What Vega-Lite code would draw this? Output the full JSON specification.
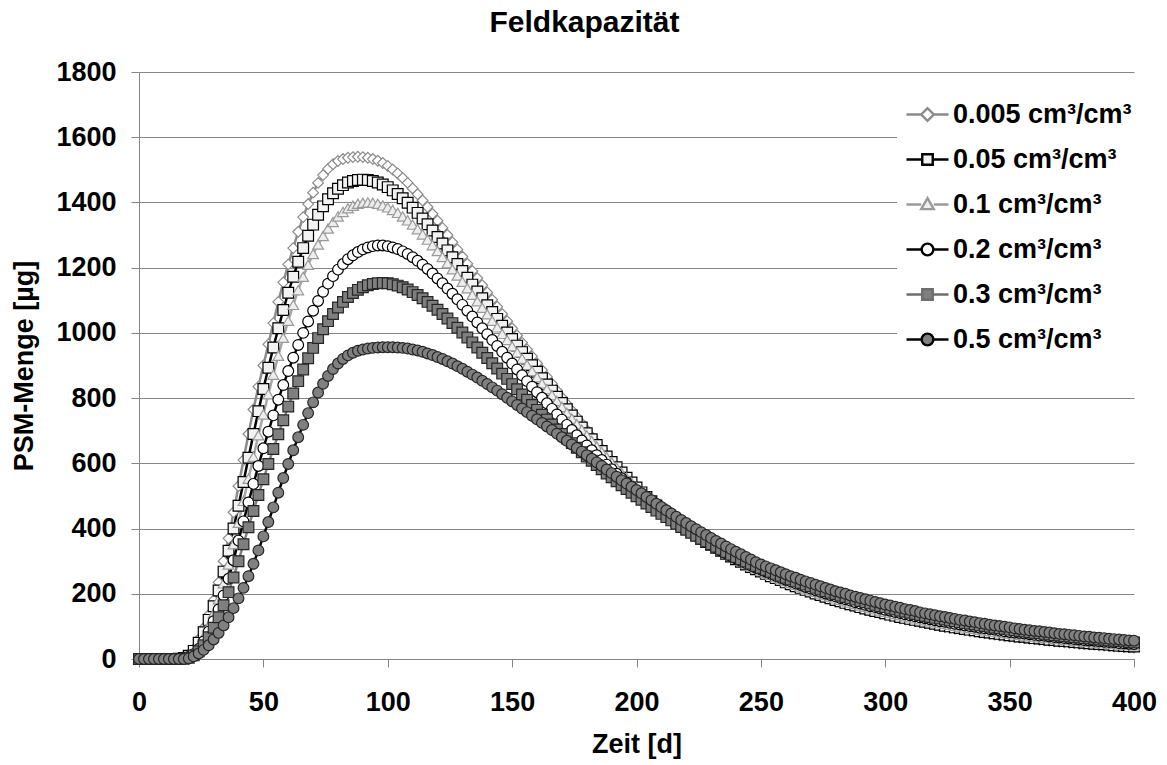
{
"$schema":"https://vega.github.io/schema/vega-lite/v6.json",
"width":995,"height":587,"autosize":"none",
"padding":{"left":139,"top":72,"right":33,"bottom":106},
"background":"white",
"title":{"text":"Feldkapazität","fontSize":30,"font":"Liberation Sans","fontWeight":"bold","color":"#000","anchor":"middle","dx":-52,"offset":-4,"baseline":"alphabetic"},
"datasets":{"w":[
{"t":0,"a":0,"b":0,"c":0,"d":0,"e":0,"f":0},
{"t":2,"a":0,"b":0,"c":0,"d":0,"e":0,"f":0},
{"t":4,"a":0,"b":0,"c":0,"d":0,"e":0,"f":0},
{"t":6,"a":0,"b":0,"c":0,"d":0,"e":0,"f":0},
{"t":8,"a":0,"b":0,"c":0,"d":0,"e":0,"f":0},
{"t":10,"a":0,"b":0,"c":0,"d":0,"e":0,"f":0},
{"t":12,"a":0,"b":0,"c":0,"d":0,"e":0,"f":0},
{"t":14,"a":0,"b":0,"c":0,"d":0,"e":0,"f":0},
{"t":16,"a":1,"b":1,"c":1,"d":0,"e":0,"f":0},
{"t":18,"a":4,"b":3,"c":3,"d":2,"e":1,"f":0},
{"t":20,"a":12,"b":10,"c":8,"d":6,"e":4,"f":2},
{"t":22,"a":30,"b":25,"c":20,"d":15,"e":11,"f":8},
{"t":24,"a":60,"b":50,"c":40,"d":31,"e":24,"f":17},
{"t":26,"a":95,"b":82,"c":68,"d":54,"e":42,"f":28},
{"t":28,"a":135,"b":120,"c":102,"d":84,"e":67,"f":42},
{"t":30,"a":180,"b":162,"c":140,"d":116,"e":96,"f":60},
{"t":32,"a":235,"b":210,"c":183,"d":152,"e":128,"f":80},
{"t":34,"a":300,"b":268,"c":232,"d":195,"e":165,"f":103},
{"t":36,"a":370,"b":332,"c":290,"d":246,"e":205,"f":128},
{"t":38,"a":450,"b":400,"c":352,"d":303,"e":250,"f":156},
{"t":40,"a":530,"b":470,"c":418,"d":363,"e":300,"f":186},
{"t":42,"a":610,"b":543,"c":485,"d":422,"e":352,"f":218},
{"t":44,"a":690,"b":617,"c":553,"d":480,"e":404,"f":254},
{"t":46,"a":765,"b":690,"c":620,"d":537,"e":454,"f":292},
{"t":48,"a":835,"b":760,"c":686,"d":592,"e":503,"f":333},
{"t":50,"a":900,"b":828,"c":750,"d":646,"e":551,"f":376},
{"t":52,"a":965,"b":893,"c":812,"d":697,"e":598,"f":420},
{"t":54,"a":1030,"b":955,"c":872,"d":747,"e":644,"f":465},
{"t":56,"a":1095,"b":1014,"c":930,"d":795,"e":689,"f":510},
{"t":58,"a":1155,"b":1070,"c":985,"d":840,"e":732,"f":555},
{"t":60,"a":1210,"b":1123,"c":1037,"d":883,"e":774,"f":598},
{"t":62,"a":1260,"b":1172,"c":1086,"d":924,"e":814,"f":640},
{"t":64,"a":1310,"b":1218,"c":1131,"d":963,"e":852,"f":680},
{"t":66,"a":1355,"b":1260,"c":1172,"d":1000,"e":888,"f":718},
{"t":68,"a":1395,"b":1298,"c":1209,"d":1035,"e":922,"f":754},
{"t":70,"a":1430,"b":1332,"c":1242,"d":1068,"e":954,"f":787},
{"t":72,"a":1460,"b":1362,"c":1271,"d":1098,"e":984,"f":817},
{"t":74,"a":1484,"b":1388,"c":1297,"d":1126,"e":1011,"f":844},
{"t":76,"a":1503,"b":1410,"c":1320,"d":1151,"e":1036,"f":868},
{"t":78,"a":1517,"b":1428,"c":1340,"d":1174,"e":1058,"f":889},
{"t":80,"a":1527,"b":1442,"c":1357,"d":1194,"e":1078,"f":906},
{"t":82,"a":1533,"b":1453,"c":1371,"d":1211,"e":1095,"f":920},
{"t":84,"a":1537,"b":1461,"c":1382,"d":1226,"e":1110,"f":931},
{"t":86,"a":1539,"b":1466,"c":1390,"d":1238,"e":1122,"f":939},
{"t":88,"a":1540,"b":1469,"c":1396,"d":1248,"e":1132,"f":945},
{"t":90,"a":1539,"b":1470,"c":1399,"d":1256,"e":1140,"f":949},
{"t":92,"a":1537,"b":1469,"c":1400,"d":1262,"e":1146,"f":952},
{"t":94,"a":1533,"b":1466,"c":1399,"d":1266,"e":1150,"f":954},
{"t":96,"a":1528,"b":1461,"c":1396,"d":1268,"e":1152,"f":955},
{"t":98,"a":1521,"b":1455,"c":1391,"d":1268,"e":1153,"f":956},
{"t":100,"a":1512,"b":1447,"c":1385,"d":1266,"e":1152,"f":956},
{"t":102,"a":1501,"b":1437,"c":1377,"d":1262,"e":1149,"f":956},
{"t":104,"a":1489,"b":1426,"c":1368,"d":1257,"e":1145,"f":955},
{"t":106,"a":1475,"b":1413,"c":1357,"d":1250,"e":1140,"f":954},
{"t":108,"a":1460,"b":1399,"c":1345,"d":1242,"e":1133,"f":952},
{"t":110,"a":1443,"b":1384,"c":1332,"d":1232,"e":1125,"f":949},
{"t":112,"a":1425,"b":1368,"c":1318,"d":1221,"e":1116,"f":946},
{"t":114,"a":1406,"b":1351,"c":1302,"d":1209,"e":1106,"f":942},
{"t":116,"a":1386,"b":1333,"c":1286,"d":1196,"e":1095,"f":937},
{"t":118,"a":1365,"b":1314,"c":1269,"d":1182,"e":1083,"f":932},
{"t":120,"a":1344,"b":1294,"c":1251,"d":1167,"e":1071,"f":926},
{"t":122,"a":1322,"b":1274,"c":1233,"d":1152,"e":1058,"f":920},
{"t":124,"a":1300,"b":1253,"c":1214,"d":1136,"e":1044,"f":913},
{"t":126,"a":1278,"b":1232,"c":1195,"d":1120,"e":1030,"f":906},
{"t":128,"a":1256,"b":1211,"c":1176,"d":1103,"e":1016,"f":898},
{"t":130,"a":1234,"b":1190,"c":1157,"d":1086,"e":1001,"f":890},
{"t":132,"a":1212,"b":1169,"c":1137,"d":1068,"e":986,"f":881},
{"t":134,"a":1190,"b":1148,"c":1117,"d":1050,"e":971,"f":872},
{"t":136,"a":1168,"b":1127,"c":1097,"d":1032,"e":955,"f":863},
{"t":138,"a":1146,"b":1106,"c":1077,"d":1014,"e":939,"f":853},
{"t":140,"a":1124,"b":1085,"c":1057,"d":996,"e":923,"f":843},
{"t":142,"a":1102,"b":1064,"c":1037,"d":978,"e":907,"f":833},
{"t":144,"a":1080,"b":1043,"c":1017,"d":960,"e":891,"f":823},
{"t":146,"a":1058,"b":1022,"c":997,"d":942,"e":875,"f":812},
{"t":148,"a":1036,"b":1001,"c":978,"d":924,"e":859,"f":801},
{"t":150,"a":1014,"b":981,"c":959,"d":906,"e":843,"f":790},
{"t":152,"a":992,"b":961,"c":940,"d":888,"e":827,"f":779},
{"t":154,"a":970,"b":941,"c":921,"d":870,"e":811,"f":768},
{"t":156,"a":949,"b":921,"c":902,"d":852,"e":795,"f":757},
{"t":158,"a":928,"b":901,"c":883,"d":835,"e":779,"f":746},
{"t":160,"a":907,"b":881,"c":864,"d":818,"e":764,"f":735},
{"t":162,"a":886,"b":861,"c":845,"d":801,"e":749,"f":724},
{"t":164,"a":865,"b":842,"c":827,"d":784,"e":734,"f":713},
{"t":166,"a":844,"b":823,"c":809,"d":767,"e":719,"f":702},
{"t":168,"a":823,"b":804,"c":791,"d":750,"e":704,"f":691},
{"t":170,"a":802,"b":785,"c":773,"d":734,"e":690,"f":680},
{"t":172,"a":782,"b":766,"c":755,"d":718,"e":676,"f":669},
{"t":174,"a":762,"b":747,"c":737,"d":702,"e":662,"f":658},
{"t":176,"a":742,"b":728,"c":720,"d":686,"e":648,"f":647},
{"t":178,"a":722,"b":710,"c":703,"d":670,"e":634,"f":636},
{"t":180,"a":702,"b":692,"c":686,"d":655,"e":621,"f":625},
{"t":182,"a":682,"b":674,"c":669,"d":640,"e":608,"f":614},
{"t":184,"a":663,"b":656,"c":652,"d":625,"e":595,"f":603},
{"t":186,"a":644,"b":638,"c":635,"d":610,"e":582,"f":592},
{"t":188,"a":625,"b":621,"c":619,"d":596,"e":569,"f":581},
{"t":190,"a":607,"b":604,"c":603,"d":582,"e":557,"f":570},
{"t":192,"a":590,"b":588,"c":587,"d":568,"e":545,"f":559},
{"t":194,"a":573,"b":572,"c":571,"d":554,"e":533,"f":548},
{"t":196,"a":557,"b":556,"c":556,"d":541,"e":521,"f":538},
{"t":198,"a":541,"b":541,"c":541,"d":528,"e":510,"f":528},
{"t":200,"a":526,"b":526,"c":526,"d":515,"e":499,"f":518},
{"t":202,"a":511,"b":511,"c":512,"d":502,"e":488,"f":508},
{"t":204,"a":497,"b":497,"c":498,"d":489,"e":477,"f":497},
{"t":206,"a":483,"b":484,"c":485,"d":477,"e":466,"f":487},
{"t":208,"a":470,"b":471,"c":472,"d":465,"e":455,"f":476},
{"t":210,"a":457,"b":458,"c":460,"d":453,"e":445,"f":466},
{"t":212,"a":445,"b":446,"c":448,"d":441,"e":435,"f":456},
{"t":214,"a":433,"b":434,"c":436,"d":430,"e":425,"f":446},
{"t":216,"a":421,"b":422,"c":424,"d":419,"e":415,"f":436},
{"t":218,"a":410,"b":411,"c":413,"d":408,"e":405,"f":426},
{"t":220,"a":399,"b":400,"c":402,"d":398,"e":396,"f":417},
{"t":222,"a":388,"b":389,"c":391,"d":388,"e":387,"f":407},
{"t":224,"a":378,"b":379,"c":381,"d":378,"e":378,"f":398},
{"t":226,"a":368,"b":369,"c":371,"d":368,"e":369,"f":389},
{"t":228,"a":358,"b":359,"c":361,"d":359,"e":360,"f":380},
{"t":230,"a":348,"b":350,"c":352,"d":350,"e":352,"f":371},
{"t":232,"a":339,"b":341,"c":343,"d":341,"e":344,"f":362},
{"t":234,"a":330,"b":332,"c":334,"d":332,"e":336,"f":354},
{"t":236,"a":321,"b":323,"c":325,"d":324,"e":328,"f":345},
{"t":238,"a":312,"b":314,"c":317,"d":316,"e":320,"f":337},
{"t":240,"a":304,"b":306,"c":309,"d":308,"e":313,"f":329},
{"t":242,"a":296,"b":298,"c":301,"d":301,"e":306,"f":321},
{"t":244,"a":288,"b":290,"c":293,"d":294,"e":299,"f":313},
{"t":246,"a":280,"b":282,"c":285,"d":287,"e":292,"f":305},
{"t":248,"a":273,"b":275,"c":278,"d":280,"e":285,"f":297},
{"t":250,"a":266,"b":268,"c":271,"d":274,"e":279,"f":290},
{"t":252,"a":259,"b":261,"c":264,"d":268,"e":273,"f":284},
{"t":254,"a":252,"b":254,"c":258,"d":261,"e":267,"f":278},
{"t":256,"a":245,"b":248,"c":251,"d":255,"e":261,"f":272},
{"t":258,"a":239,"b":242,"c":245,"d":249,"e":255,"f":266},
{"t":260,"a":232,"b":235,"c":239,"d":243,"e":249,"f":260},
{"t":262,"a":226,"b":229,"c":233,"d":238,"e":244,"f":254},
{"t":264,"a":220,"b":223,"c":228,"d":232,"e":238,"f":249},
{"t":266,"a":214,"b":218,"c":222,"d":227,"e":233,"f":243},
{"t":268,"a":209,"b":212,"c":216,"d":221,"e":228,"f":238},
{"t":270,"a":203,"b":207,"c":211,"d":216,"e":223,"f":233},
{"t":272,"a":198,"b":201,"c":206,"d":211,"e":218,"f":228},
{"t":274,"a":192,"b":196,"c":201,"d":206,"e":213,"f":223},
{"t":276,"a":187,"b":191,"c":196,"d":201,"e":208,"f":218},
{"t":278,"a":182,"b":186,"c":191,"d":196,"e":203,"f":213},
{"t":280,"a":177,"b":181,"c":186,"d":192,"e":199,"f":208},
{"t":282,"a":173,"b":177,"c":182,"d":187,"e":194,"f":204},
{"t":284,"a":168,"b":172,"c":177,"d":183,"e":190,"f":200},
{"t":286,"a":164,"b":168,"c":173,"d":179,"e":186,"f":195},
{"t":288,"a":159,"b":164,"c":169,"d":174,"e":182,"f":191},
{"t":290,"a":155,"b":159,"c":164,"d":170,"e":178,"f":187},
{"t":292,"a":151,"b":155,"c":160,"d":166,"e":174,"f":183},
{"t":294,"a":147,"b":151,"c":156,"d":162,"e":170,"f":179},
{"t":296,"a":143,"b":147,"c":153,"d":159,"e":166,"f":175},
{"t":298,"a":139,"b":144,"c":149,"d":155,"e":162,"f":171},
{"t":300,"a":136,"b":140,"c":145,"d":151,"e":159,"f":167},
{"t":302,"a":132,"b":136,"c":142,"d":148,"e":155,"f":164},
{"t":304,"a":129,"b":133,"c":138,"d":144,"e":152,"f":160},
{"t":306,"a":125,"b":129,"c":135,"d":141,"e":148,"f":157},
{"t":308,"a":122,"b":126,"c":131,"d":137,"e":145,"f":153},
{"t":310,"a":119,"b":123,"c":128,"d":134,"e":142,"f":150},
{"t":312,"a":116,"b":120,"c":125,"d":131,"e":138,"f":147},
{"t":314,"a":113,"b":117,"c":122,"d":128,"e":135,"f":143},
{"t":316,"a":110,"b":114,"c":119,"d":125,"e":132,"f":140},
{"t":318,"a":107,"b":111,"c":116,"d":122,"e":129,"f":137},
{"t":320,"a":104,"b":108,"c":113,"d":119,"e":126,"f":134},
{"t":322,"a":101,"b":105,"c":110,"d":116,"e":124,"f":131},
{"t":324,"a":98,"b":102,"c":108,"d":114,"e":121,"f":129},
{"t":326,"a":96,"b":100,"c":105,"d":111,"e":118,"f":126},
{"t":328,"a":93,"b":97,"c":102,"d":108,"e":116,"f":123},
{"t":330,"a":91,"b":95,"c":100,"d":106,"e":113,"f":120},
{"t":332,"a":88,"b":92,"c":97,"d":103,"e":110,"f":118},
{"t":334,"a":86,"b":90,"c":95,"d":101,"e":108,"f":115},
{"t":336,"a":84,"b":88,"c":93,"d":99,"e":106,"f":113},
{"t":338,"a":81,"b":85,"c":90,"d":96,"e":103,"f":110},
{"t":340,"a":79,"b":83,"c":88,"d":94,"e":101,"f":108},
{"t":342,"a":77,"b":81,"c":86,"d":92,"e":99,"f":105},
{"t":344,"a":75,"b":79,"c":84,"d":90,"e":96,"f":103},
{"t":346,"a":73,"b":77,"c":82,"d":87,"e":94,"f":101},
{"t":348,"a":71,"b":75,"c":80,"d":85,"e":92,"f":99},
{"t":350,"a":69,"b":73,"c":78,"d":83,"e":90,"f":97},
{"t":352,"a":67,"b":71,"c":76,"d":81,"e":88,"f":94},
{"t":354,"a":66,"b":69,"c":74,"d":80,"e":86,"f":92},
{"t":356,"a":64,"b":68,"c":72,"d":78,"e":84,"f":90},
{"t":358,"a":62,"b":66,"c":70,"d":76,"e":82,"f":88},
{"t":360,"a":61,"b":64,"c":69,"d":74,"e":80,"f":86},
{"t":362,"a":59,"b":63,"c":67,"d":72,"e":79,"f":85},
{"t":364,"a":57,"b":61,"c":65,"d":71,"e":77,"f":83},
{"t":366,"a":56,"b":59,"c":64,"d":69,"e":75,"f":81},
{"t":368,"a":54,"b":58,"c":62,"d":67,"e":73,"f":79},
{"t":370,"a":53,"b":56,"c":61,"d":66,"e":72,"f":77},
{"t":372,"a":51,"b":55,"c":59,"d":64,"e":70,"f":76},
{"t":374,"a":50,"b":54,"c":58,"d":63,"e":69,"f":74},
{"t":376,"a":49,"b":52,"c":56,"d":61,"e":67,"f":73},
{"t":378,"a":47,"b":51,"c":55,"d":60,"e":66,"f":71},
{"t":380,"a":46,"b":50,"c":53,"d":58,"e":64,"f":69},
{"t":382,"a":45,"b":48,"c":52,"d":57,"e":63,"f":68},
{"t":384,"a":44,"b":47,"c":51,"d":56,"e":61,"f":66},
{"t":386,"a":42,"b":46,"c":50,"d":54,"e":60,"f":65},
{"t":388,"a":41,"b":45,"c":48,"d":53,"e":59,"f":64},
{"t":390,"a":40,"b":44,"c":47,"d":52,"e":57,"f":62},
{"t":392,"a":39,"b":42,"c":46,"d":51,"e":56,"f":61},
{"t":394,"a":38,"b":41,"c":45,"d":49,"e":55,"f":60},
{"t":396,"a":37,"b":40,"c":44,"d":48,"e":54,"f":58},
{"t":398,"a":36,"b":39,"c":43,"d":47,"e":52,"f":57},
{"t":400,"a":35,"b":38,"c":42,"d":46,"e":51,"f":56}
]},
"layer":[
{"data":{"name":"w"},
 "transform":[{"fold":["a","b","c","d","e","f"],"as":["s","v"]}],
 "mark":{"type":"line","strokeWidth":2.5},
 "encoding":{
  "x":{"field":"t","type":"quantitative","scale":{"domain":[0,400],"nice":false},"axis":{"title":"Zeit [d]","values":[0,50,100,150,200,250,300,350,400],"grid":false,"labelFlush":false,"format":"d"}},
  "y":{"field":"v","type":"quantitative","scale":{"domain":[0,1800],"nice":false},"axis":{"title":"PSM-Menge [µg]","values":[0,200,400,600,800,1000,1200,1400,1600,1800],"grid":true,"format":"d"}},
  "color":{"field":"s","type":"nominal","scale":{"domain":["a","b","c","d","e","f"],"range":["#8c8c8c","#000000","#a6a6a6","#000000","#808080","#000000"]},"legend":null},
  "detail":{"field":"s","type":"nominal"}
 }},
{"data":{"name":"w"},
 "transform":[{"fold":["a","b","c","d","e","f"],"as":["s","v"]}],
 "mark":{"type":"point","filled":true,"size":115,"strokeWidth":1.2,"opacity":1},
 "encoding":{
  "x":{"field":"t","type":"quantitative"},
  "y":{"field":"v","type":"quantitative"},
  "shape":{"field":"s","type":"nominal","scale":{"domain":["a","b","c","d","e","f"],"range":["diamond","square","triangle-up","circle","square","circle"]},"legend":null},
  "fill":{"field":"s","type":"nominal","scale":{"domain":["a","b","c","d","e","f"],"range":["#ffffff","#f2f2f2","#eeeeee","#ffffff","#7f7f7f","#808080"]},"legend":null},
  "stroke":{"field":"s","type":"nominal","scale":{"domain":["a","b","c","d","e","f"],"range":["#8a8a8a","#000000","#9a9a9a","#000000","#262626","#262626"]},"legend":null},
  "order":{"field":"s","type":"ordinal"}
 }},
{"data":{"values":[{"k":"0.005 cm³/cm³"},{"k":"0.05 cm³/cm³"},{"k":"0.1 cm³/cm³"},{"k":"0.2 cm³/cm³"},{"k":"0.3 cm³/cm³"},{"k":"0.5 cm³/cm³"}]},
 "mark":{"type":"point","filled":true,"opacity":0},
 "encoding":{
  "shape":{"field":"k","type":"nominal","scale":{"domain":["0.005 cm³/cm³","0.05 cm³/cm³","0.1 cm³/cm³","0.2 cm³/cm³","0.3 cm³/cm³","0.5 cm³/cm³"],"range":["M-1,0H-0.3M0.3,0H1M-0.3,0L0,-0.3L0.3,0L0,0.3Z","M-1,0H-0.25M0.25,0H1M-0.25,-0.25H0.25V0.25H-0.25Z","M-1,0H-0.3M0.3,0H1M0,-0.3L0.3,0.22H-0.3Z","M-1,0H-0.28M0.28,0H1M0.28,0A0.28,0.28,0,1,1,-0.28,0A0.28,0.28,0,1,1,0.28,0Z","M-1,0H-0.25M0.25,0H1M-0.25,-0.25H0.25V0.25H-0.25Z","M-1,0H-0.28M0.28,0H1M0.28,0A0.28,0.28,0,1,1,-0.28,0A0.28,0.28,0,1,1,0.28,0Z"]},
   "legend":{"title":null,"orient":"none","legendX":758,"legendY":12,"padding":8,"fillColor":"white","rowPadding":9,"labelFont":"Liberation Sans","labelFontSize":27,"labelFontWeight":"bold","labelColor":"#000","labelOffset":3,"labelLimit":400,"symbolSize":1764,"symbolStrokeWidth":2.4,"symbolOpacity":1}},
  "fill":{"field":"k","type":"nominal","scale":{"domain":["0.005 cm³/cm³","0.05 cm³/cm³","0.1 cm³/cm³","0.2 cm³/cm³","0.3 cm³/cm³","0.5 cm³/cm³"],"range":["#ffffff","#f2f2f2","#eeeeee","#ffffff","#7f7f7f","#808080"]},
   "legend":{"title":null,"orient":"none","legendX":758,"legendY":12,"padding":8,"fillColor":"white","rowPadding":9,"labelFont":"Liberation Sans","labelFontSize":27,"labelFontWeight":"bold","labelColor":"#000","labelOffset":3,"labelLimit":400,"symbolSize":1764,"symbolStrokeWidth":2.4,"symbolOpacity":1}},
  "stroke":{"field":"k","type":"nominal","scale":{"domain":["0.005 cm³/cm³","0.05 cm³/cm³","0.1 cm³/cm³","0.2 cm³/cm³","0.3 cm³/cm³","0.5 cm³/cm³"],"range":["#8a8a8a","#000000","#9a9a9a","#000000","#6e6e6e","#000000"]},
   "legend":{"title":null,"orient":"none","legendX":758,"legendY":12,"padding":8,"fillColor":"white","rowPadding":9,"labelFont":"Liberation Sans","labelFontSize":27,"labelFontWeight":"bold","labelColor":"#000","labelOffset":3,"labelLimit":400,"symbolSize":1764,"symbolStrokeWidth":2.4,"symbolOpacity":1}}
 }}
],
"resolve":{"scale":{"shape":"independent","fill":"independent","stroke":"independent"}},
"config":{
 "view":{"stroke":null},
 "font":"Liberation Sans",
 "axis":{"domainColor":"#868686","domainWidth":1,"tickColor":"#868686","tickSize":8,"tickWidth":1,"labelFont":"Liberation Sans","labelFontSize":27,"labelFontWeight":"bold","labelColor":"#000","titleFont":"Liberation Sans","titleFontSize":27,"titleFontWeight":"bold","titleColor":"#000","gridColor":"#868686","gridWidth":1,"gridOpacity":1,"labelOverlap":false},
 "axisX":{"labelPadding":22,"titlePadding":16},
 "axisY":{"labelPadding":15,"titlePadding":17}
}
}
